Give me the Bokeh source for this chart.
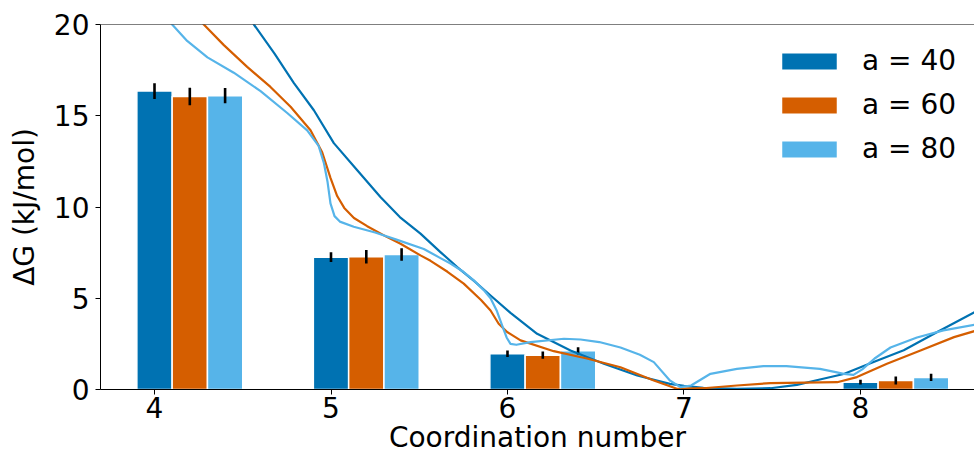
from bokeh.plotting import figure
from bokeh.models import ColumnDataSource, Span, Legend, LegendItem
from bokeh.embed import file_html
from bokeh.resources import INLINE

# Free-energy differences per coordination number (bars) with their uncertainties
coordination = [4, 5, 6, 8]
dg_a40 = [16.35, 7.25, 1.96, 0.40]
err_a40 = [0.43, 0.27, 0.18, 0.13]
dg_a60 = [16.05, 7.27, 1.88, 0.49]
err_a60 = [0.48, 0.37, 0.20, 0.22]
dg_a80 = [16.10, 7.40, 2.12, 0.66]
err_a80 = [0.42, 0.34, 0.20, 0.20]

# Free-energy profiles along the coordination number
cn_a40 = [4.40, 4.563, 4.68, 4.789, 4.903, 5.016, 5.15, 5.28, 5.39, 5.507, 5.62,
          5.715, 5.81, 5.904, 6.017, 6.168, 6.357, 6.546, 6.735, 6.92, 7.0,
          7.11, 7.30, 7.49, 7.64, 7.77, 7.905, 8.06, 8.245, 8.435, 8.646]
pmf_a40 = [22.6, 20.0, 18.4, 16.8, 15.3, 13.5, 12.0, 10.55, 9.45, 8.54, 7.53,
           6.71, 5.95, 5.15, 4.2, 3.05, 2.14, 1.41, 0.77, 0.31, 0.2,
           0.09, 0.04, 0.07, 0.25, 0.55, 0.85, 1.45, 2.15, 3.15, 4.24]

cn_a60 = [4.15, 4.279, 4.393, 4.525, 4.657, 4.771, 4.884, 4.95, 4.997, 5.035,
          5.075, 5.13, 5.205, 5.318, 5.394, 5.507, 5.564, 5.66, 5.752, 5.85,
          5.904, 5.95, 5.998, 6.074, 6.262, 6.45, 6.64, 6.829, 6.96, 7.11,
          7.30, 7.49, 7.68, 7.868, 7.98, 8.15, 8.34, 8.53, 8.646]
pmf_a60 = [21.6, 20.0, 18.87, 17.68, 16.58, 15.49, 14.21, 13.0, 11.6, 10.6,
           9.95, 9.4, 8.95, 8.35, 7.99, 7.35, 7.05, 6.45, 5.8, 4.9,
           4.33, 3.6, 3.15, 2.69, 2.1, 1.7, 1.22, 0.49, 0.04, 0.07,
           0.22, 0.35, 0.38, 0.40, 0.68, 1.41, 2.14, 2.87, 3.2]

cn_a80 = [3.95, 4.10, 4.185, 4.30, 4.449, 4.601, 4.752, 4.865, 4.93, 4.96,
          4.98, 4.997, 5.02, 5.05, 5.129, 5.25, 5.375, 5.526, 5.62, 5.677,
          5.75, 5.809, 5.87, 5.904, 5.94, 5.97, 5.995, 6.017, 6.05, 6.13,
          6.32, 6.414, 6.52, 6.64, 6.75, 6.829, 6.92, 6.98, 7.04, 7.15,
          7.30, 7.45, 7.58, 7.77, 7.86, 7.905, 7.96, 8.01, 8.08, 8.17,
          8.32, 8.47, 8.646]
pmf_a80 = [22.0, 20.0, 19.1, 18.2, 17.36, 16.35, 15.15, 14.2, 13.35, 12.4,
           11.4, 10.2, 9.5, 9.2, 8.92, 8.6, 8.2, 7.7, 7.2, 6.9,
           6.45, 5.98, 5.4, 5.0, 4.3, 3.5, 2.85, 2.5, 2.45, 2.6,
           2.78, 2.74, 2.6, 2.3, 1.9, 1.5, 0.49, 0.13, 0.22, 0.86,
           1.13, 1.28, 1.28, 1.13, 0.95, 0.86, 0.80, 1.1, 1.7, 2.3,
           2.85, 3.24, 3.55]

x_ticks = [4, 5, 6, 7, 8]
y_ticks = [0, 5, 10, 15, 20]
labels = ["a = 40", "a = 60", "a = 80"]
colors = ["#0072B2", "#D55E00", "#56B4E9"]

FONT = "DejaVu Sans"
FS = "28px"
BAR_W = 0.2

p = figure(width=974, height=461, x_range=(3.694, 8.646), y_range=(0, 20),
           output_backend="svg", toolbar_location=None,
           min_border_left=100, min_border_right=0,
           min_border_top=24, min_border_bottom=72)
p.outline_line_color = None
p.grid.visible = False
p.background_fill_color = "white"
p.border_fill_color = "white"

series = [(dg_a40, err_a40), (dg_a60, err_a60), (dg_a80, err_a80)]
bar_renderers = []
for i, ((vals, errs), col) in enumerate(zip(series, colors)):
    xs = [c + i * BAR_W for c in coordination]
    src = ColumnDataSource(dict(
        x=xs, top=vals,
        lo=[v - e for v, e in zip(vals, errs)],
        hi=[v + e for v, e in zip(vals, errs)],
    ))
    r = p.vbar(x="x", top="top", bottom=0, width=BAR_W, source=src,
               fill_color=col, line_color="white", line_width=1.5)
    bar_renderers.append(r)
    p.segment(x0="x", y0="lo", x1="x", y1="hi", source=src,
              line_color="black", line_width=2.6)

for xs, ys, col in [(cn_a40, pmf_a40, colors[0]),
                    (cn_a60, pmf_a60, colors[1]),
                    (cn_a80, pmf_a80, colors[2])]:
    p.line(xs, ys, line_color=col, line_width=2.2, line_join="round")

p.add_layout(Span(location=20, dimension="width", line_color="black", line_width=1))

for ax in (p.xaxis[0], p.yaxis[0]):
    ax.major_label_text_font = FONT
    ax.major_label_text_font_size = FS
    ax.major_label_text_color = "black"
    ax.axis_label_text_font = FONT
    ax.axis_label_text_font_size = FS
    ax.axis_label_text_font_style = "normal"
    ax.axis_label_text_color = "black"
    ax.axis_line_color = "black"
    ax.major_tick_line_color = "black"
    ax.major_tick_out = 5
    ax.major_tick_in = 0
    ax.minor_tick_out = 0
    ax.minor_tick_in = 0

p.xaxis.ticker = x_ticks
p.yaxis.ticker = y_ticks
p.xaxis.axis_label = "Coordination number"
p.yaxis.axis_label = "ΔG (kJ/mol)"
p.xaxis.major_label_standoff = 2
p.xaxis.axis_label_standoff = 0
p.yaxis.major_label_standoff = 6
p.yaxis.axis_label_standoff = 10

legend = Legend(items=[LegendItem(label=l, renderers=[r]) for l, r in zip(labels, bar_renderers)],
                location=(674, 224), orientation="vertical")
legend.label_text_font = FONT
legend.label_text_font_size = FS
legend.label_text_color = "black"
legend.glyph_width = 70
legend.glyph_height = 22
legend.label_standoff = 18
legend.spacing = 11
legend.padding = 0
legend.margin = 0
legend.border_line_color = None
legend.background_fill_alpha = 0
p.add_layout(legend)

open("out.html", "w").write(file_html(p, INLINE))
